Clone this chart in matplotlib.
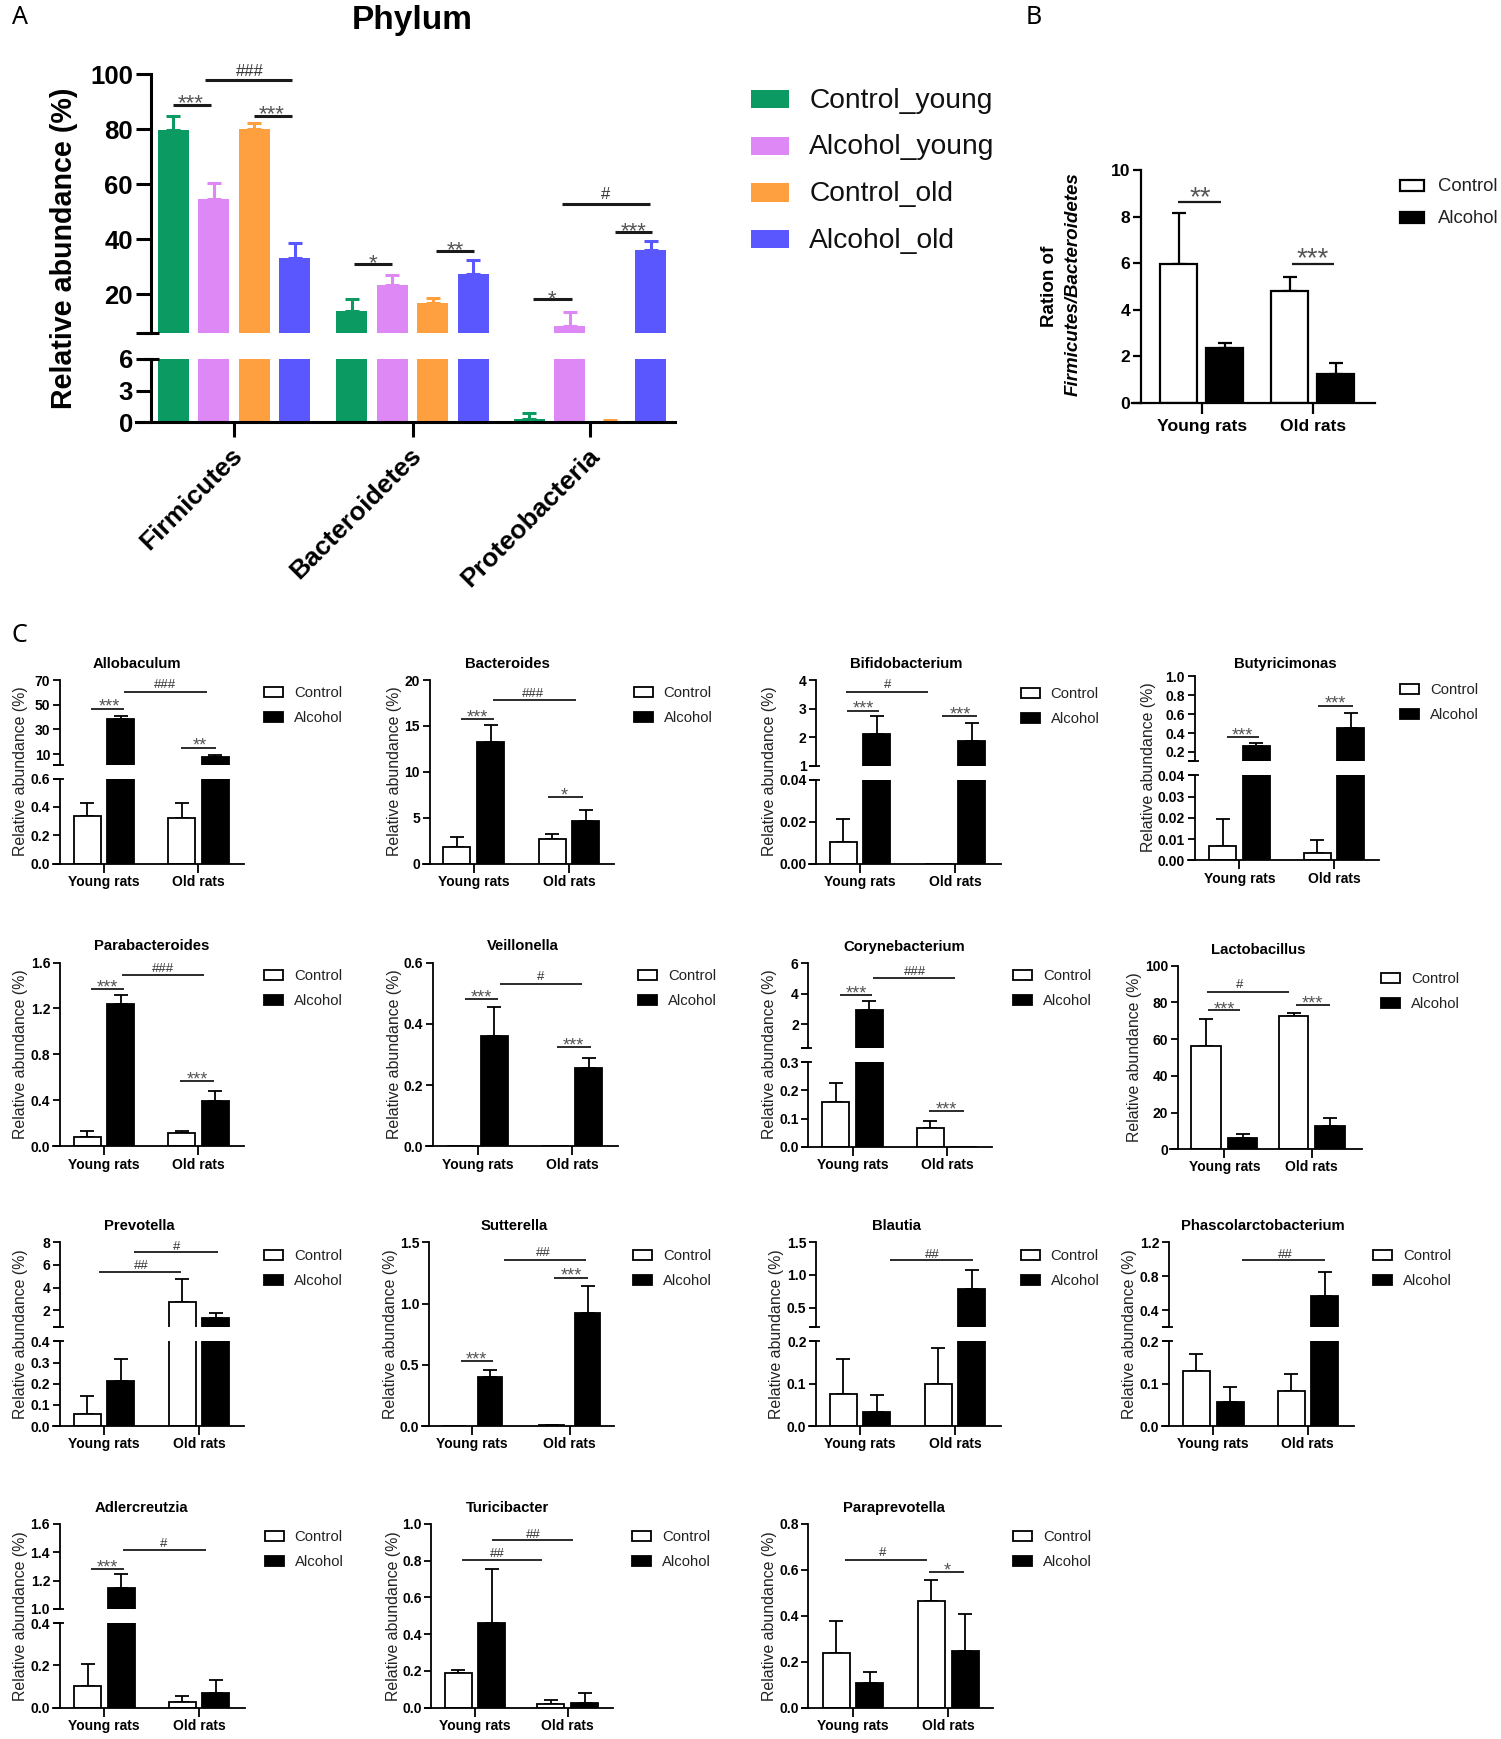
import matplotlib
matplotlib.use("Agg")
import matplotlib.pyplot as plt
from matplotlib.patches import Rectangle

W, H = 1501, 1739
plt.rcParams['font.family'] = ['Liberation Sans', 'DejaVu Sans']

# panel A values, bar height then top of error bar
phyla = ["Firmicutes", "Bacteroidetes", "Proteobacteria"]
a_groups = ["Control_young", "Alcohol_young", "Control_old", "Alcohol_old"]
a_colors = ["#0B9A62", "#DD88F5", "#FFA040", "#5A57FF"]
a_values = [[79.8, 14.1, 0.35], [54.8, 23.3, 8.4], [80.3, 16.8, 0.05], [33.2, 27.3, 36.2]]
a_tops = [[84.7, 18.3, 0.85], [60.5, 26.9, 13.7], [82.3, 18.8, 0.25], [38.7, 32.5, 39.4]]

# panel B values
b_groups = ["Young rats", "Old rats"]
b_control = [5.95, 4.8]
b_control_top = [8.15, 5.4]
b_alcohol = [2.35, 1.25]
b_alcohol_top = [2.55, 1.7]

# panel C values, one entry per genus
genera = ["Allobaculum", "Bacteroides", "Bifidobacterium", "Butyricimonas",
          "Parabacteroides", "Veillonella", "Corynebacterium", "Lactobacillus",
          "Prevotella", "Sutterella", "Blautia", "Phascolarctobacterium",
          "Adlercreutzia", "Turicibacter", "Paraprevotella"]
control_young = [0.335, 1.8, 0.0105, 0.0068, 0.085, 0, 0.157, 56.5, 0.058, 0, 0.077, 0.13, 0.105, 0.19, 0.24]
control_young_top = [0.43, 2.9, 0.0212, 0.0195, 0.135, 0, 0.225, 71, 0.14, 0, 0.158, 0.17, 0.205, 0.205, 0.378]
alcohol_young = [38.5, 13.2, 2.12, 0.265, 1.24, 0.36, 2.9, 6, 0.215, 0.405, 0.034, 0.056, 1.15, 0.46, 0.106]
alcohol_young_top = [40.5, 15.05, 2.75, 0.29, 1.32, 0.455, 3.5, 8.5, 0.315, 0.455, 0.073, 0.092, 1.245, 0.755, 0.157]
control_old = [0.32, 2.65, 0, 0.0035, 0.115, 0, 0.067, 72.5, 2.7, 0.008, 0.099, 0.084, 0.028, 0.018, 0.465]
control_old_top = [0.43, 3.2, 0, 0.0098, 0.13, 0, 0.092, 74.5, 4.72, 0.01, 0.185, 0.123, 0.055, 0.04, 0.555]
alcohol_old = [7.6, 4.6, 1.87, 0.455, 0.395, 0.255, 0, 12.5, 1.27, 0.92, 0.78, 0.57, 0.068, 0.028, 0.246]
alcohol_old_top = [9, 5.85, 2.5, 0.61, 0.48, 0.29, 0, 17, 1.72, 1.145, 1.07, 0.85, 0.133, 0.078, 0.407]

# y scales: lower ticks, upper ticks (None = no axis break), lower limit of upper part
low_ticks = [[0, .2, .4, .6], [0, 5, 10, 15, 20], [0, .02, .04], [0, .01, .02, .03, .04],
             [0, .4, .8, 1.2, 1.6], [0, .2, .4, .6], [0, .1, .2, .3], [0, 20, 40, 60, 80, 100],
             [0, .1, .2, .3, .4], [0, .5, 1, 1.5], [0, .1, .2], [0, .1, .2],
             [0, .2, .4], [0, .2, .4, .6, .8, 1], [0, .2, .4, .6, .8]]
high_ticks = [[10, 30, 50, 70], None, [1, 2, 3, 4], [.2, .4, .6, .8, 1], None, None, [2, 4, 6], None,
              [2, 4, 6, 8], None, [.5, 1, 1.5], [.4, .8, 1.2], [1, 1.2, 1.4, 1.6], None, None]
high_floor = [1.1, None, 1, .1, None, None, .43, None, .5, None, .2, .2, 1, None, None]
low_fmt = ['%.1f', '%d', '%.2f', '%.2f', '%.1f', '%.1f', '%.1f', '%d', '%.1f', '%.1f', '%.1f', '%.1f', '%.1f', '%.1f', '%.1f']
high_fmt = ['%d', '', '%d', '%.1f', '', '', '%d', '', '%d', '', '%.1f', '%.1f', '%.1f', '', '']

# pixel layout of panel C: x-axis start, spine, x-axis end, tick 1, tick 2, baseline, top,
# top of lower part, bottom of upper part, title x, title y, ylabel x, ylabel y, legend box x, legend y
layout = [
    (53, 60, 244, 104, 198.5, 863.6, 680, 778.6, 765, 137, 663.6, 18, 771, 264, 692),
    (422.5, 429.7, 614, 473.7, 569, 863.6, 680, None, None, 507, 663.6, 391, 771, 633.5, 692),
    (809.4, 816.2, 1000.6, 860, 955, 864, 680.4, 779.6, 765.7, 906, 663.6, 766.7, 771, 1020.5, 693),
    (1188, 1194.8, 1379, 1239.4, 1334, 860.4, 676.4, 775.4, 761.4, 1285.5, 664, 1145, 767.5, 1400, 689),
    (53, 60, 244, 104, 198.5, 1146.4, 962.5, None, None, 152, 946.4, 18, 1054, 264, 975),
    (426, 433, 618, 477.5, 572, 1146.4, 962.5, None, None, 522.5, 946.4, 391, 1054, 638, 975),
    (801.6, 808.4, 992.4, 852.6, 947, 1146.8, 963.2, 1062, 1047.9, 904, 947, 766.7, 1054, 1012.8, 975.4),
    (1170, 1177.8, 1361.7, 1224.4, 1311.7, 1149.3, 965.7, None, None, 1258, 949.6, 1131, 1056.8, 1381, 978),
    (52.6, 59.8, 244.4, 103.8, 199, 1426.2, 1242.3, 1341.3, 1327.2, 139.7, 1226.5, 18, 1334, 264, 1254.7),
    (422, 429, 613.7, 472, 569.7, 1426.2, 1242.3, None, None, 514.7, 1226.5, 387.4, 1334, 633.3, 1254.7),
    (809.4, 816.2, 1000.6, 860, 955, 1426.2, 1242.3, 1341.3, 1327.2, 896.3, 1226.5, 773, 1334, 1020.5, 1254.7),
    (1162, 1169, 1353.5, 1213.2, 1307.8, 1426.2, 1242.3, 1341.3, 1327.2, 1262.7, 1226.5, 1126.3, 1334, 1373.4, 1254.7),
    (52.6, 59.8, 244.9, 104.3, 199, 1707.7, 1523.8, 1623.2, 1609, 141.6, 1507.7, 18, 1616, 264.5, 1536.2),
    (424.7, 431.4, 612.7, 475, 567.7, 1707.7, 1523.8, None, None, 507, 1507.7, 390.8, 1616, 631.8, 1536.2),
    (801.6, 808.4, 993.3, 853, 948.2, 1707.7, 1523.8, None, None, 893.9, 1507.7, 766.7, 1616, 1012.8, 1536.2),
]
bar_width = {7: 29.5, 9: 24.4}
bar_offset = {7: 18.2, 9: 18}

# significance lines in pixels: x0, x1, y, label, label x, label y
sig_a = [(173, 211.4, 104.8, "***", 191, 96), (204.7, 292, 80, "###", 250, 70),
         (254, 292, 116, "***", 272, 107), (353.5, 392, 264, "*", 372.6, 256.6),
         (435.7, 473.5, 250.7, "**", 455, 242.8), (562, 649.5, 204.4, "#", 606, 193),
         (614.6, 651.5, 232, "***", 633.7, 224), (533, 571.6, 299.3, "*", 552.4, 292)]
sig_b = [(1178.3, 1220.6, 201.7, "**", 1200, 189), (1292, 1334, 264, "***", 1313, 250)]
sig_c = [(91, 123.5, 709, "***", 109, 701.4), (124, 207, 691.8, "###", 165, 683.6), (181, 216, 747.5, "**", 199.5, 740),
         (461, 494, 718.6, "***", 477, 711.8), (493, 575.6, 700.4, "###", 532.5, 692), (548, 583, 796.8, "*", 564, 789.6),
         (845.8, 928.3, 691.8, "#", 888, 683.6), (847, 879, 710.7, "***", 863, 703), (942.4, 976.8, 716, "***", 960, 708.6),
         (1226.8, 1258.8, 736.8, "***", 1242.8, 729.6), (1318, 1352.5, 705.7, "***", 1335.5, 698),
         (91, 123.5, 989, "***", 107, 981.8), (122, 204, 975, "###", 163, 966.8), (180, 214, 1081, "***", 197.6, 1074),
         (465, 497.6, 999, "***", 481, 992), (499.5, 582, 984, "#", 541, 975.7), (556.5, 591, 1046.8, "***", 573.7, 1039.6),
         (839.5, 872, 994.6, "***", 856.5, 988), (872.5, 954.5, 977.5, "###", 914.7, 970), (929.3, 963.7, 1110.7, "***", 946.8, 1103.6),
         (1206.9, 1289.4, 991.8, "#", 1239.4, 983.6), (1208.3, 1240.4, 1010.4, "***", 1224.4, 1003.6), (1295.7, 1329.7, 1005.4, "***", 1312.7, 997.9),
         (98.5, 180.8, 1271.8, "##", 141, 1264.3), (134.4, 217.6, 1252.3, "#", 176.5, 1245),
         (461, 493, 1360.9, "***", 476.4, 1354), (503.7, 586, 1259.8, "##", 543.4, 1250.9), (554.4, 587.8, 1278, "***", 571.6, 1270.5),
         (889.5, 972.5, 1260, "##", 932, 1253), (1242.3, 1324.8, 1260, "##", 1285, 1253),
         (91.4, 123.9, 1568.9, "***", 107.6, 1561.6), (123, 205.7, 1550, "#", 163.6, 1542),
         (491.7, 572.5, 1540, "##", 533.3, 1532.8), (461.6, 542.4, 1560, "##", 497.4, 1552.7),
         (844.8, 927.3, 1560, "#", 882.2, 1551.7), (929.3, 964.2, 1572.3, "*", 947.7, 1565)]

fig = plt.figure(figsize=(W / 100, H / 100), dpi=100, facecolor='white')

# overlay in image pixels for titles, legends and significance marks
over = fig.add_axes([0, 0, 1, 1], zorder=10)
over.set_xlim(0, W)
over.set_ylim(H, 0)
over.axis('off')


def px_axes(x0, x1, ytop, ybot):
    return fig.add_axes([x0 / W, 1 - ybot / H, (x1 - x0) / W, (ybot - ytop) / H])


def sig_marks(marks, lw, star_pt, hash_pt):
    for x0, x1, y, label, tx, ty in marks:
        over.plot([x0, x1], [y, y], color='#1a1a1a', lw=lw, solid_capstyle='butt')
        if '*' in label:
            size = star_pt / 0.72
            over.text(tx, ty + 0.58 * size, label, fontsize=star_pt, color='#555555', ha='center', va='baseline')
        else:
            size = hash_pt / 0.72
            over.text(tx, ty + 0.36 * size, label, fontsize=hash_pt, color='#333333', ha='center', va='baseline')


def style_axis(ax, spine_x, spine_lw, tick_pt, tick_len):
    ax.patch.set_alpha(0)
    ax.spines['top'].set_visible(False)
    ax.spines['right'].set_visible(False)
    ax.spines['left'].set_position(('data', spine_x))
    for side in ('left', 'bottom'):
        ax.spines[side].set_linewidth(spine_lw)
        ax.spines[side].set_zorder(6)
    ax.tick_params(axis='y', width=spine_lw, length=tick_len, pad=2, labelsize=tick_pt)
    ax.tick_params(axis='x', width=spine_lw, length=tick_len * 1.3, pad=1.5, labelsize=tick_pt)
    for lab in ax.get_yticklabels() + ax.get_xticklabels():
        lab.set_fontweight('bold')


def draw_bar(ax, x, val, top, width, face, edge, lw, err_col, err_lw, cap):
    ax.bar(x, val, width=width, color=face, edgecolor=edge, linewidth=lw, zorder=3)
    lo, hi = ax.get_ylim()
    # a cap that falls in the other part of a broken axis stays out of this one
    if top > val and lo < top <= hi:
        ax.errorbar(x, val, yerr=[[0], [top - val]], color=err_col, elinewidth=err_lw,
                    capsize=cap, capthick=err_lw, zorder=2, fmt='none')


def break_tick(x, y, lw):
    over.plot([x - 7, x + 4], [y, y], color='black', lw=lw, solid_capstyle='butt')


def two_group_panel(parts, centers, offset, width, series, spine_lw):
    for ax in parts:
        for k, (vals, tops) in enumerate(series):
            face = 'white' if k == 0 else 'black'
            for c, v, t in zip(centers, vals, tops):
                x = c + (-offset if k == 0 else offset)
                draw_bar(ax, x, v, t, width, face, 'black', spine_lw, 'black', spine_lw, 5)


# ---- panel C ----
for i, name in enumerate(genera):
    xl, spine, xr, c1, c2, base, top, split_low, split_high, tx, ty, lx, ly, boxx, legy = layout[i]
    series = [([control_young[i], control_old[i]], [control_young_top[i], control_old_top[i]]),
              ([alcohol_young[i], alcohol_old[i]], [alcohol_young_top[i], alcohol_old_top[i]])]
    w = bar_width.get(i, 27)
    off = bar_offset.get(i, 16.8)
    if high_ticks[i] is None:
        low = px_axes(xl, xr, top, base)
        parts = [low]
    else:
        low = px_axes(xl, xr, split_low, base)
        high = px_axes(xl, xr, top, split_high)
        high.set_ylim(high_floor[i], high_ticks[i][-1])
        parts = [low, high]
    low.set_ylim(low_ticks[i][0], low_ticks[i][-1])
    two_group_panel(parts, [c1, c2], off, w, series, 1.3)
    low.set_xlim(xl, xr)
    low.set_yticks(low_ticks[i])
    low.set_yticklabels([low_fmt[i] % v for v in low_ticks[i]])
    low.set_xticks([c1, c2])
    low.set_xticklabels(b_groups)
    style_axis(low, spine, 1.3, 10, 5)
    if high_ticks[i] is not None:
        ticks = high_ticks[i]
        floor = high_floor[i]
        high.set_xlim(xl, xr)
        if floor in ticks:
            high.set_yticks(ticks)
            high.set_yticklabels([high_fmt[i] % v for v in ticks])
        else:
            high.set_yticks([floor] + ticks)
            high.set_yticklabels([''] + [high_fmt[i] % v for v in ticks])
        high.set_xticks([])
        style_axis(high, spine, 1.3, 10, 5)
        high.spines['bottom'].set_visible(False)
        break_tick(spine, split_low, 1.3)
        break_tick(spine, split_high, 1.3)

    over.text(tx, ty, name, fontsize=10.7, fontweight='bold', ha='center', va='center')
    over.text(lx + 3, ly, "Relative abundance (%)", fontsize=11.4, rotation=90, ha='center', va='center', color='#222222')
    for j, (lab, col) in enumerate(zip(["Control", "Alcohol"], ['white', 'black'])):
        yy = legy + j * 25
        over.add_patch(Rectangle((boxx, yy - 5), 19, 10, facecolor=col, edgecolor='black', lw=1.3))
        over.text(boxx + 30, yy + 1, lab, fontsize=10.7, ha='left', va='center', color='#222222')

sig_marks(sig_c, 1.3, 13, 9.5)

# ---- panel A ----
a_low = px_axes(136, 675.4, 359, 422.3)
a_high = px_axes(136, 675.4, 74.3, 333)
a_low.set_ylim(0, 6)
a_high.set_ylim(6, 100)
a_centers = [234, 412.5, 590]
for ax in (a_low, a_high):
    for k in range(4):
        for g in range(3):
            x = a_centers[g] + (k - 1.5) * 40.4
            draw_bar(ax, x, a_values[k][g], a_tops[k][g], 31, a_colors[k], a_colors[k], 0,
                     a_colors[k], 2.2, 5)
a_low.set_xlim(136, 675.4)
a_low.set_yticks([0, 3, 6])
a_low.set_yticklabels(['0', '3', '6'])
a_low.set_xticks(a_centers)
a_low.set_xticklabels(['', '', ''])
style_axis(a_low, 151, 2.2, 18.5, 11)
a_low.tick_params(axis='x', length=11)
a_high.set_xlim(136, 675.4)
a_high.set_yticks([6, 20, 40, 60, 80, 100])
a_high.set_yticklabels(['', '20', '40', '60', '80', '100'])
a_high.set_xticks([])
style_axis(a_high, 151, 2.2, 18.5, 11)
a_high.spines['bottom'].set_visible(False)
over.plot([143, 159], [333, 333], color='black', lw=2.2, solid_capstyle='butt')
over.plot([143, 159], [359, 359], color='black', lw=2.2, solid_capstyle='butt')

over.text(412, 20.6, "Phylum", fontsize=24, fontweight='bold', ha='center', va='center')
over.text(64, 248, "Relative abundance (%)", fontsize=20.6, fontweight='bold', rotation=90, ha='center', va='center')
for name, ex, ey in zip(phyla, [239, 418, 596], [452, 452, 452]):
    over.text(ex, ey, name, fontsize=19, fontweight='bold', rotation=45, ha='right', va='center',
              rotation_mode='anchor')
for k, lab in enumerate(a_groups):
    yy = 99 + k * 46.7
    over.add_patch(Rectangle((751, yy - 9.2), 37.5, 18.4, facecolor=a_colors[k], edgecolor='none'))
    over.text(809.4, yy + 1.5, lab, fontsize=20.3, ha='left', va='center', color='#111111')
sig_marks(sig_a, 2.2, 16, 12)

# ---- panel B ----
b_ax = px_axes(1132, 1375, 170, 402.7)
b_ax.set_ylim(0, 10)
two_group_panel([b_ax], [1202, 1313], 23, 37,
                [(b_control, b_control_top), (b_alcohol, b_alcohol_top)], 1.6)
b_ax.set_xlim(1132, 1375)
b_ax.set_yticks([0, 2, 4, 6, 8, 10])
b_ax.set_xticks([1202, 1313])
b_ax.set_xticklabels(b_groups)
style_axis(b_ax, 1141.4, 1.6, 12.6, 6)
b_ax.tick_params(axis='x', pad=4)
over.text(1049, 286, "Ration of", fontsize=13.5, fontweight='bold', rotation=90, ha='center', va='center')
over.text(1073, 284, "Firmicutes/Bacteroidetes", fontsize=13.5, fontweight='bold', fontstyle='italic',
          rotation=90, ha='center', va='center')
for j, (lab, col) in enumerate(zip(["Control", "Alcohol"], ['white', 'black'])):
    yy = 185.7 + j * 31.6
    over.add_patch(Rectangle((1400, yy - 5.5), 23.5, 11, facecolor=col, edgecolor='black', lw=1.6))
    over.text(1438, yy + 1, lab, fontsize=13.3, ha='left', va='center', color='#222222')
sig_marks(sig_b, 1.6, 20, 11)

# panel letters
for letter, lx, ly in [("A", 20.5, 17), ("B", 1034, 17), ("C", 19, 635)]:
    over.text(lx, ly, letter, fontsize=18, family='Noto Sans', ha='center', va='center')

fig.savefig("out.png", dpi=100)
